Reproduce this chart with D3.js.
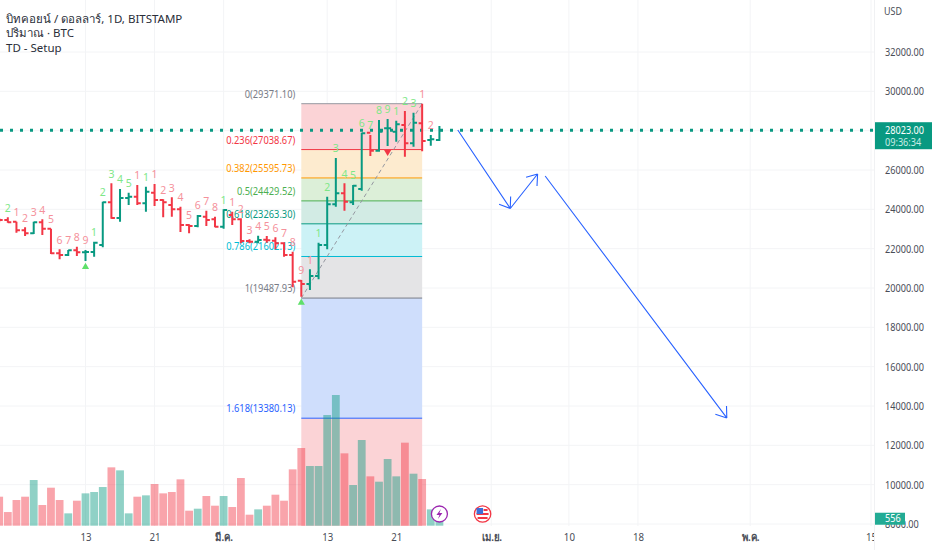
<!DOCTYPE html>
<html>
<head>
<meta charset="utf-8">
<script src="https://cdn.jsdelivr.net/npm/d3@7"></script>
<style>
  html, body { margin: 0; padding: 0; background: #fff; }
  svg { display: block; font-family: "Noto Sans", "Open Sans", sans-serif; }
</style>
</head>
<body>
<div class="root"></div>
<script>
// daily bars
const dates = ['02-03','02-04','02-05','02-06','02-07','02-08','02-09','02-10','02-11','02-12','02-13','02-14','02-15','02-16','02-17','02-18','02-19','02-20','02-21','02-22','02-23','02-24','02-25','02-26','02-27','02-28','03-01','03-02','03-03','03-04','03-05','03-06','03-07','03-08','03-09','03-10','03-11','03-12','03-13','03-14','03-15','03-16','03-17','03-18','03-19','03-20','03-21','03-22','03-23','03-24','03-25','03-26'];
const opens = [23490,23460,23374,22933,22780,23340,23018,21763,21679,21916,21814,21831,22187,24357,23560,24577,24645,24306,24848,24476,24221,24001,23204,23153,23628,23492,23119,23713,23492,22391,22357,22458,22408,22272,21679,20374,20204,20611,22187,24255,24815,24357,25035,27899,26984,28120,27950,28289,27357,28374,27527,27527];
const highs = [23560,23594,23374,23086,23374,23492,23018,21967,21933,22102,21933,22357,24391,25323,25035,24848,25238,25153,25289,24509,24611,24137,23238,23713,23933,23628,24001,23882,23543,22475,22662,22645,22577,22323,21848,20407,20950,22306,24645,26611,25323,25238,27899,27781,28543,28594,28510,29001,28916,29371,27781,28238];
const lows = [23340,23323,22814,22645,22747,22696,21730,21458,21628,21628,21374,21594,22069,23526,23374,24221,24221,23882,24170,23594,23628,22848,22780,23086,23153,23086,23018,23204,22272,22272,22272,22306,21967,21594,20035,19560,19899,20441,21967,24137,23933,24221,24950,26713,26933,27221,27442,26679,27188,26950,27238,27476];
const closes = [23460,23340,22933,22780,23340,23018,21763,21679,21916,21814,21831,22306,24357,23560,24577,24645,24306,24899,24476,24357,24001,23204,23153,23662,23458,23119,23967,23492,22391,22357,22441,22425,22272,21679,20323,20204,20611,22187,24255,24815,24391,25204,27866,26984,27950,28120,28323,27357,28408,27476,27560,28023];
const volumes = [1798,847,1592,1798,2832,1282,2356,1592,765,1550,2005,2088,2398,3617,3431,765,1798,1881,2584,2005,2088,2873,930,1054,1840,1240,1840,1158,2956,682,1013,1240,1922,1550,3493,4816,3700,3700,6862,8102,4485,2522,5312,3059,2728,4134,3059,5147,3224,2894,1013,556];
// TD setup counts, one per bar: g = green count, r = red count
const tdCounts = ['','2','1','2','3','4','5','6','7','8','9','1','2','3','4','5','1','1','1','2','3','4','5','6','7','8','1','1','2','3','4','5','6','7','8','9','1','1','2','3','4','5','6','7','8','9','1','2','3','1','2',''];
const tdKinds = ['','g','r','r','r','r','r','r','r','r','r','g','g','g','g','g','r','g','r','r','r','r','r','r','r','r','g','r','r','r','r','r','r','r','r','r','r','g','g','g','g','g','g','g','g','g','g','g','g','r','r',''];
const tdUpMarks = ['02-13','03-10'];
const tdDownMarks = ['03-20'];

const fibRatios = ['0','0.236','0.382','0.5','0.618','0.786','1','1.618'];
const fibPrices = [29371.10,27038.67,25595.73,24429.52,23263.30,21602.13,19487.93,13380.13];
const fibLines = ['#9598a1','#f23645','#ff9800','#4caf50','#089981','#00bcd4','#787b86','#2962ff'];
const fibFills = ['#fbd3d6','#fdebcf','#dcefd8','#d2ebe4','#ccf2f6','#e4e4e6','#cfdefc','#fbd3d6'];

const priceTicks = [32000,30000,28000,26000,24000,22000,20000,18000,16000,14000,12000,10000,8000];
const timeTicks = ['02-13','02-21','03-01','03-13','03-21','04-01','04-10','04-18','05-01','05-15'];
const timeLabels = ['13','21','มี.ค.','13','21','เม.ย.','10','18','พ.ค.','15'];
const boldTicks = ['มี.ค.','เม.ย.','พ.ค.'];

// hand drawn arrows on the chart: [date, price]
const arrowOne = [['03-28T03:00',28034],['04-03T05:00',24043]];
const arrowTwo = [['04-03T05:00',24043],['04-06T09:00',25798]];
const arrowThree = [['04-07T06:00',25696],['04-28T07:00',13393]];

const lastPrice = 28023;
const countdown = '09:36:34';
const legendLines = ['บิทคอยน์ / ดอลลาร์, 1D, BITSTAMP','ปริมาณ · BTC','TD - Setup'];

const RED = '#f23645';
const TEAL = '#089981';
const width = 932;
const height = 550;
const paneRight = 874;
const paneBottom = 526;

const day = s => new Date(`2023-${s.length > 5 ? s : s + 'T00:00'}Z`);

// the reference's type is narrower than anything installed, so squeeze it
const squeeze = (sel, k) => sel.each(function() {
  d3.select(this)
    .attr('textLength', this.getComputedTextLength() * k)
    .attr('lengthAdjust', 'spacingAndGlyphs');
});

const x = d3.scaleUtc()
  .domain([day('02-13'), day('03-13')])
  .range([85.5, 327.2]);
const y = d3.scaleLinear()
  .domain([8000, 32000])
  .range([524, 52]);
const yVol = d3.scaleLinear()
  .domain([0, 8102])
  .range([525.7, 395]);

const bars = dates.map((d, i) => ({
  x: x(day(d)), open: opens[i], high: highs[i], low: lows[i], close: closes[i],
  volume: volumes[i], count: tdCounts[i], kind: tdKinds[i]
}));
const up = d => d.close >= d.open;

const svg = d3.select('.root')
  .append('svg')
  .attr('width', width)
  .attr('height', height);

svg.append('clipPath').attr('id', 'pane')
  .append('rect').attr('width', paneRight).attr('height', paneBottom);

const pane = svg.append('g').attr('clip-path', 'url(#pane)');

// grid
pane.selectAll('.gridY')
  .data(priceTicks)
  .enter()
  .append('line')
  .attr('x1', 0).attr('x2', paneRight)
  .attr('y1', d => y(d)).attr('y2', d => y(d))
  .attr('stroke', '#f3f4f6');
pane.selectAll('.gridX')
  .data(timeTicks)
  .enter()
  .append('line')
  .attr('x1', d => x(day(d))).attr('x2', d => x(day(d)))
  .attr('y1', 0).attr('y2', paneBottom)
  .attr('stroke', '#f3f4f6');

// fib bands
const fibLeft = x(day('03-10'));
const fibRight = x(day('03-24'));
fibPrices.forEach((p, i) => {
  const next = i < fibPrices.length - 1 ? y(fibPrices[i + 1]) : paneBottom;
  pane.append('rect')
    .attr('x', fibLeft)
    .attr('y', y(p))
    .attr('width', fibRight - fibLeft)
    .attr('height', next - y(p))
    .attr('fill', fibFills[i]);
});
fibPrices.forEach((p, i) => {
  pane.append('line')
    .attr('x1', fibLeft).attr('x2', fibRight)
    .attr('y1', y(p)).attr('y2', y(p))
    .attr('stroke', fibLines[i]);
  pane.append('text')
    .attr('x', fibLeft - 6)
    .attr('y', y(p) - 6)
    .attr('text-anchor', 'end')
    .attr('font-size', 11)
    .attr('fill', fibLines[i] === '#9598a1' ? '#787b86' : fibLines[i])
    .text(`${fibRatios[i]}(${p.toFixed(2)})`)
    .call(squeeze, 0.845);
});

// fib trend line
pane.append('line')
  .attr('x1', fibLeft).attr('y1', y(fibPrices[6]))
  .attr('x2', fibRight).attr('y2', y(fibPrices[0]))
  .attr('stroke', '#9598a1')
  .attr('stroke-dasharray', '4 3');

// volume
pane.selectAll('.vol')
  .data(bars)
  .enter()
  .append('rect')
  .attr('x', d => d.x - 3.9)
  .attr('width', 7.8)
  .attr('y', d => yVol(d.volume))
  .attr('height', d => yVol(0) - yVol(d.volume))
  .attr('fill', d => up(d) ? TEAL : RED)
  .attr('fill-opacity', 0.45);

// last price line
pane.append('line')
  .attr('x1', 0).attr('x2', paneRight)
  .attr('y1', y(lastPrice)).attr('y2', y(lastPrice))
  .attr('stroke', TEAL)
  .attr('stroke-width', 3)
  .attr('stroke-dasharray', '3 7');

// ohlc bars
pane.selectAll('.bar')
  .data(bars)
  .enter()
  .append('path')
  .attr('d', d => `M${d.x},${y(d.high)}V${y(d.low)}M${d.x - 3.5},${y(d.open)}H${d.x}M${d.x},${y(d.close)}H${d.x + 3.5}`)
  .attr('fill', 'none')
  .attr('stroke', d => up(d) ? TEAL : RED)
  .attr('stroke-width', 2);

// TD numbers
pane.selectAll('.td')
  .data(bars.filter(d => d.count))
  .enter()
  .append('text')
  .attr('x', d => d.x)
  .attr('y', d => y(d.high) - 5.5)
  .attr('text-anchor', 'middle')
  .attr('font-size', 10.5)
  .attr('fill', d => d.kind === 'g' ? '#7ee787' : '#f5919b')
  .text(d => d.count);

const triangle = d3.symbol().type(d3.symbolTriangle).size(22);
tdUpMarks.forEach(d => {
  const b = bars[dates.indexOf(d)];
  pane.append('path')
    .attr('d', triangle)
    .attr('transform', `translate(${b.x},${y(b.low) + 6})`)
    .attr('fill', '#5fe06a');
});
tdDownMarks.forEach(d => {
  const b = bars[dates.indexOf(d)];
  pane.append('path')
    .attr('d', triangle)
    .attr('transform', `translate(${b.x},${y(b.low) + 6}) rotate(180)`)
    .attr('fill', RED);
});

// blue arrows
const drawArrow = pts => {
  const [x1, y1] = [x(day(pts[0][0])), y(pts[0][1])];
  const [x2, y2] = [x(day(pts[1][0])), y(pts[1][1])];
  const a = Math.atan2(y2 - y1, x2 - x1);
  const barb = t => `M${x2},${y2}L${x2 - 12 * Math.cos(a + t)},${y2 - 12 * Math.sin(a + t)}`;
  pane.append('path')
    .attr('d', `M${x1},${y1}L${x2},${y2}${barb(0.62)}${barb(-0.62)}`)
    .attr('fill', 'none')
    .attr('stroke', '#2962ff')
    .attr('stroke-width', 1.1);
};
[arrowOne, arrowTwo, arrowThree].forEach(drawArrow);

// event icons
const iconY = 514;
const bolt = svg.append('g').attr('transform', `translate(${x(day('03-26'))},${iconY})`);
bolt.append('circle').attr('r', 8).attr('fill', '#fff').attr('stroke', '#9c27b0').attr('stroke-width', 1.3);
bolt.append('path').attr('d', 'M1.5,-5L-3,1H0L-1.5,5L3,-1H0Z').attr('fill', '#9c27b0');
const flag = svg.append('g').attr('transform', `translate(${x(day('03-31'))},${iconY})`);
flag.append('circle').attr('r', 8.2).attr('fill', '#fff').attr('stroke', RED).attr('stroke-width', 1.3);
flag.append('rect').attr('x', -6).attr('y', -1).attr('width', 12).attr('height', 2).attr('fill', RED);
flag.append('rect').attr('x', -5).attr('y', 3).attr('width', 10).attr('height', 2).attr('fill', RED);
flag.append('rect').attr('x', -6).attr('y', -6).attr('width', 6.5).attr('height', 6).attr('fill', '#3d6fd8');
flag.append('rect').attr('x', 1).attr('y', -5).attr('width', 4).attr('height', 2).attr('fill', RED);

// axes
svg.append('line')
  .attr('x1', paneRight + 0.5).attr('x2', paneRight + 0.5)
  .attr('y1', 0).attr('y2', height)
  .attr('stroke', '#f0f1f3');

const yAxis = svg.append('g')
  .attr('transform', `translate(${paneRight},0)`)
  .call(d3.axisRight(y).tickValues(priceTicks).tickSize(0).tickPadding(11).tickFormat(d3.format('.2f')));
yAxis.select('.domain').remove();
yAxis.selectAll('text')
  .attr('font-family', '"Noto Sans", sans-serif')
  .attr('font-size', 11)
  .attr('fill', '#4a4d57')
  .call(squeeze, 0.83);

const xAxis = svg.append('g')
  .attr('transform', `translate(0,${paneBottom})`)
  .attr('clip-path', 'url(#xclip)')
  .call(d3.axisBottom(x).tickValues(timeTicks.map(day)).tickSize(0).tickPadding(7)
    .tickFormat((d, i) => timeLabels[i]));
svg.append('clipPath').attr('id', 'xclip')
  .append('rect').attr('y', 0).attr('width', paneRight).attr('height', 30);
xAxis.select('.domain').remove();
xAxis.selectAll('text')
  .attr('font-family', '"Noto Sans", sans-serif')
  .attr('font-size', 11)
  .attr('font-weight', (d, i) => boldTicks.includes(timeLabels[i]) ? 700 : 400)
  .attr('fill', '#4a4d57')
  .call(squeeze, 0.88);

svg.append('text')
  .attr('x', 884).attr('y', 15)
  .attr('font-size', 10.5)
  .attr('fill', '#4a4d57')
  .text('USD')
  .call(squeeze, 0.85);

// price tags
svg.append('rect')
  .attr('x', paneRight + 1).attr('y', y(lastPrice) - 8)
  .attr('width', width - paneRight).attr('height', 27)
  .attr('fill', TEAL);
svg.append('text')
  .attr('x', 885).attr('y', y(lastPrice) + 3.5)
  .attr('font-size', 11).attr('fill', '#fff')
  .text(lastPrice.toFixed(2))
  .call(squeeze, 0.83);
svg.append('text')
  .attr('x', 885).attr('y', y(lastPrice) + 16)
  .attr('font-size', 11).attr('fill', '#c9ece5')
  .text(countdown)
  .call(squeeze, 0.83);
svg.append('rect')
  .attr('x', paneRight + 1).attr('y', yVol(volumes[volumes.length - 1]) - 4)
  .attr('width', 30).attr('height', 12)
  .attr('fill', '#22ab94');
svg.append('text')
  .attr('x', 885).attr('y', yVol(volumes[volumes.length - 1]) + 5.5)
  .attr('font-size', 11).attr('fill', '#fff')
  .text(volumes[volumes.length - 1])
  .call(squeeze, 0.83);

// legend
svg.selectAll('.legend')
  .data(legendLines)
  .enter()
  .append('text')
  .attr('x', 6)
  .attr('y', (d, i) => 22.5 + i * 14.5)
  .attr('font-size', 11.5)
  .attr('fill', '#2a2e39')
  .text(d => d);
</script>
</body>
</html>
